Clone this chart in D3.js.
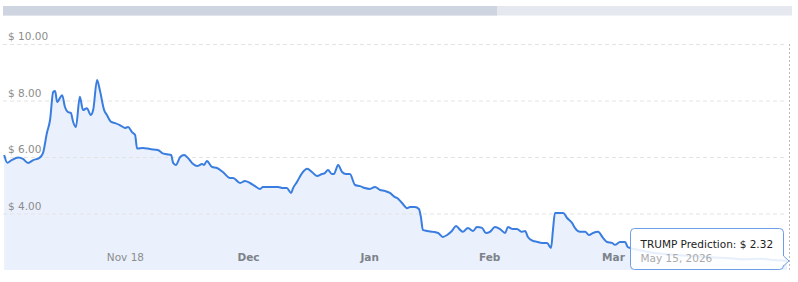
<!DOCTYPE html>
<html><head><meta charset="utf-8">
<script src="https://cdn.jsdelivr.net/npm/d3@7"></script>
<style>html,body{margin:0;padding:0;background:#fff;}svg{display:block;}</style>
</head><body><svg id="c" width="798" height="282"></svg>
<script>
// ---- data (x in chart-day units, price in USD) ----
const dayPos = [0.3,1.1,2.2,3.9,5.1,6.4,7.7,9.2,10.2,11.2,12.0,12.8,13.3,13.8,15.1,15.8,16.6,17.3,17.9,18.6,19.6,20.4,21.4,22.4,23.0,24.0,24.7,25.8,26.5,27.6,28.6,29.8,31.1,31.9,32.9,33.7,34.2,35.7,37.5,39.5,40.6,41.8,42.9,43.4,44.1,45.2,46.2,47.2,48.5,49.5,50.8,51.3,52.0,53.3,54.6,56.1,57.9,58.7,60.5,61.7,63.0,64.3,65.6,66.3,68.9,70.2,71.4,72.4,73.5,74.0,75.0,76.3,77.6,78.8,80.1,81.4,82.1,82.9,83.9,84.4,85.5,86.5,87.5,88.5,89.8,91.1,92.3,93.6,94.9,96.2,97.4,98.7,100.0,100.5,101.8,103.1,103.8,105.1,106.1,106.6,107.1,108.2,109.7,111.0,112.2,113.3,114.5,115.6,116.6,117.3,118.6,119.9,120.9,122.2,123.2,124.2,125.5,126.8,128.1,128.8,130.1,131.1,132.4,133.2,133.9,135.2,136.2,137.5,138.8,139.8,140.3,140.8,142.1,142.9,143.9,145.2,145.9,147.2,148.5,149.5,150.5,151.8,153.1,154.1,155.4,156.1,157.4,158.7,159.4,162.5,166.3,170.2,175.3,180.4,185.5,189.3,193.1,196.9,200];
const price = [6.07,5.80,5.89,5.98,5.93,5.79,5.89,5.96,6.14,6.85,7.31,8.30,8.34,7.95,8.19,7.77,7.59,7.56,7.24,7.06,8.13,7.66,7.73,7.49,7.66,8.73,8.37,7.66,7.49,7.24,7.20,7.13,7.03,7.06,6.88,6.78,6.30,6.32,6.28,6.25,6.14,6.10,6.07,5.79,5.72,6.00,6.07,5.96,5.75,5.68,5.75,5.72,5.86,5.65,5.61,5.47,5.26,5.26,5.08,5.15,5.08,4.97,4.87,4.94,4.94,4.94,4.90,4.90,4.73,4.90,5.12,5.43,5.58,5.47,5.33,5.40,5.43,5.54,5.40,5.40,5.72,5.47,5.40,5.40,5.01,4.97,4.90,4.87,4.94,4.83,4.80,4.73,4.58,4.55,4.37,4.19,4.23,4.23,4.16,3.88,3.42,3.38,3.35,3.31,3.17,3.24,3.38,3.56,3.42,3.35,3.49,3.38,3.52,3.49,3.31,3.35,3.52,3.45,3.31,3.52,3.45,3.45,3.35,3.38,3.17,3.03,3.00,2.96,2.96,2.78,3.42,4.02,4.02,4.02,3.84,3.66,3.49,3.35,3.35,3.24,3.31,3.35,3.13,2.99,2.96,2.89,2.99,2.99,2.81,2.70,2.60,2.55,2.50,2.45,2.42,2.38,2.40,2.35,2.32];

const yTicks = [4, 6, 8, 10];
const xTickPos = [31.1, 62.5, 93.4, 124, 155.6];
const xTickLabels = ["Nov 18", "Dec", "Jan", "Feb", "Mar"];
const xTickBold = [false, true, true, true, true];
const tipLabel = "TRUMP Prediction: ";
const tipValue = 2.32;
const tipDate = "May 15, 2026";
const tipDay = 200;

// ---- layout ----
const W = 798, H = 282;
const L = 3, R = 787, T = 44, B = 270;
const svg = d3.select("#c");
const x = d3.scaleLinear().domain([0, 200]).range([L, R]);
const y = d3.scaleLinear().domain([2, 10]).range([B, T]);
const pts = dayPos.map((d, i) => [d, price[i]]);
const font = "DejaVu Sans, Verdana, sans-serif";

// scrollbar
svg.append("rect").attr("x", 3).attr("y", 6).attr("width", 789).attr("height", 9.5).attr("fill", "#e5e8ef");
svg.append("rect").attr("x", 3).attr("y", 6).attr("width", 494).attr("height", 9.5).attr("fill", "#cfd5e0");

// area
svg.append("path").datum(pts)
  .attr("d", d3.area().x(d => x(d[0])).y0(B).y1(d => y(d[1])).curve(d3.curveMonotoneX))
  .attr("fill", "#eaf1fc");

// grid
svg.append("g").selectAll("line").data(yTicks).join("line")
  .attr("x1", L).attr("x2", R).attr("y1", d => y(d) + 0.5).attr("y2", d => y(d) + 0.5)
  .attr("stroke", "#e3e3e3").attr("stroke-dasharray", "4,3");

// y labels
svg.append("g").selectAll("text").data(yTicks).join("text")
  .attr("x", 8).attr("y", d => y(d) - 4)
  .attr("font-family", font).attr("font-size", 10.5).attr("fill", "#8c8c8c")
  .text(d => "$ " + d3.format(".2f")(d));

// x axis labels via axis generator
const xAxis = d3.axisBottom(x).tickValues(xTickPos).tickSize(0).tickPadding(0)
  .tickFormat((d, i) => xTickLabels[i]);
const gx = svg.append("g").attr("transform", `translate(0,${B - 16})`).call(xAxis);
gx.select(".domain").remove();
gx.selectAll("text")
  .attr("font-family", font).attr("font-size", 10.5)
  .attr("dy", "0.71em")
  .attr("font-weight", (d, i) => xTickBold[i] ? "bold" : "normal")
  .attr("fill", (d, i) => xTickBold[i] ? "#7d828a" : "#8c8c8c");

// line
svg.append("path").datum(pts)
  .attr("d", d3.line().x(d => x(d[0])).y(d => y(d[1])).curve(d3.curveMonotoneX))
  .attr("fill", "none").attr("stroke", "#3a7de0").attr("stroke-width", 2)
  .attr("stroke-linejoin", "round");

// cursor line
svg.append("line").attr("x1", x(tipDay) + 2.5).attr("x2", x(tipDay) + 2.5).attr("y1", T).attr("y2", B)
  .attr("stroke", "#bbb").attr("stroke-dasharray", "2,2");

// tooltip
const tx = 630.5, ty = 228.5, tw = 153, th = 41;
const py = y(tipValue);
const tip = svg.append("g");
tip.append("path")
  .attr("d", `M${tx + 4},${ty} H${tx + tw - 4} Q${tx + tw},${ty} ${tx + tw},${ty + 4} V${py - 5} L${x(tipDay) + 2},${py} L${tx + tw},${py + 5} V${ty + th - 4} Q${tx + tw},${ty + th} ${tx + tw - 4},${ty + th} H${tx + 4} Q${tx},${ty + th} ${tx},${ty + th - 4} V${ty + 4} Q${tx},${ty} ${tx + 4},${ty} Z`)
  .attr("fill", "#fff").attr("fill-opacity", 0.88)
  .attr("stroke", "#6d9de6").attr("stroke-width", 1);
tip.append("text").attr("x", tx + 10).attr("y", ty + 19)
  .attr("font-family", font).attr("font-size", 10.5).attr("fill", "#222")
  .text(tipLabel + "$ " + d3.format(".2f")(tipValue));
tip.append("text").attr("x", tx + 10).attr("y", ty + 33)
  .attr("font-family", font).attr("font-size", 10.5).attr("fill", "#aaa")
  .text(tipDate);
</script></body></html>
